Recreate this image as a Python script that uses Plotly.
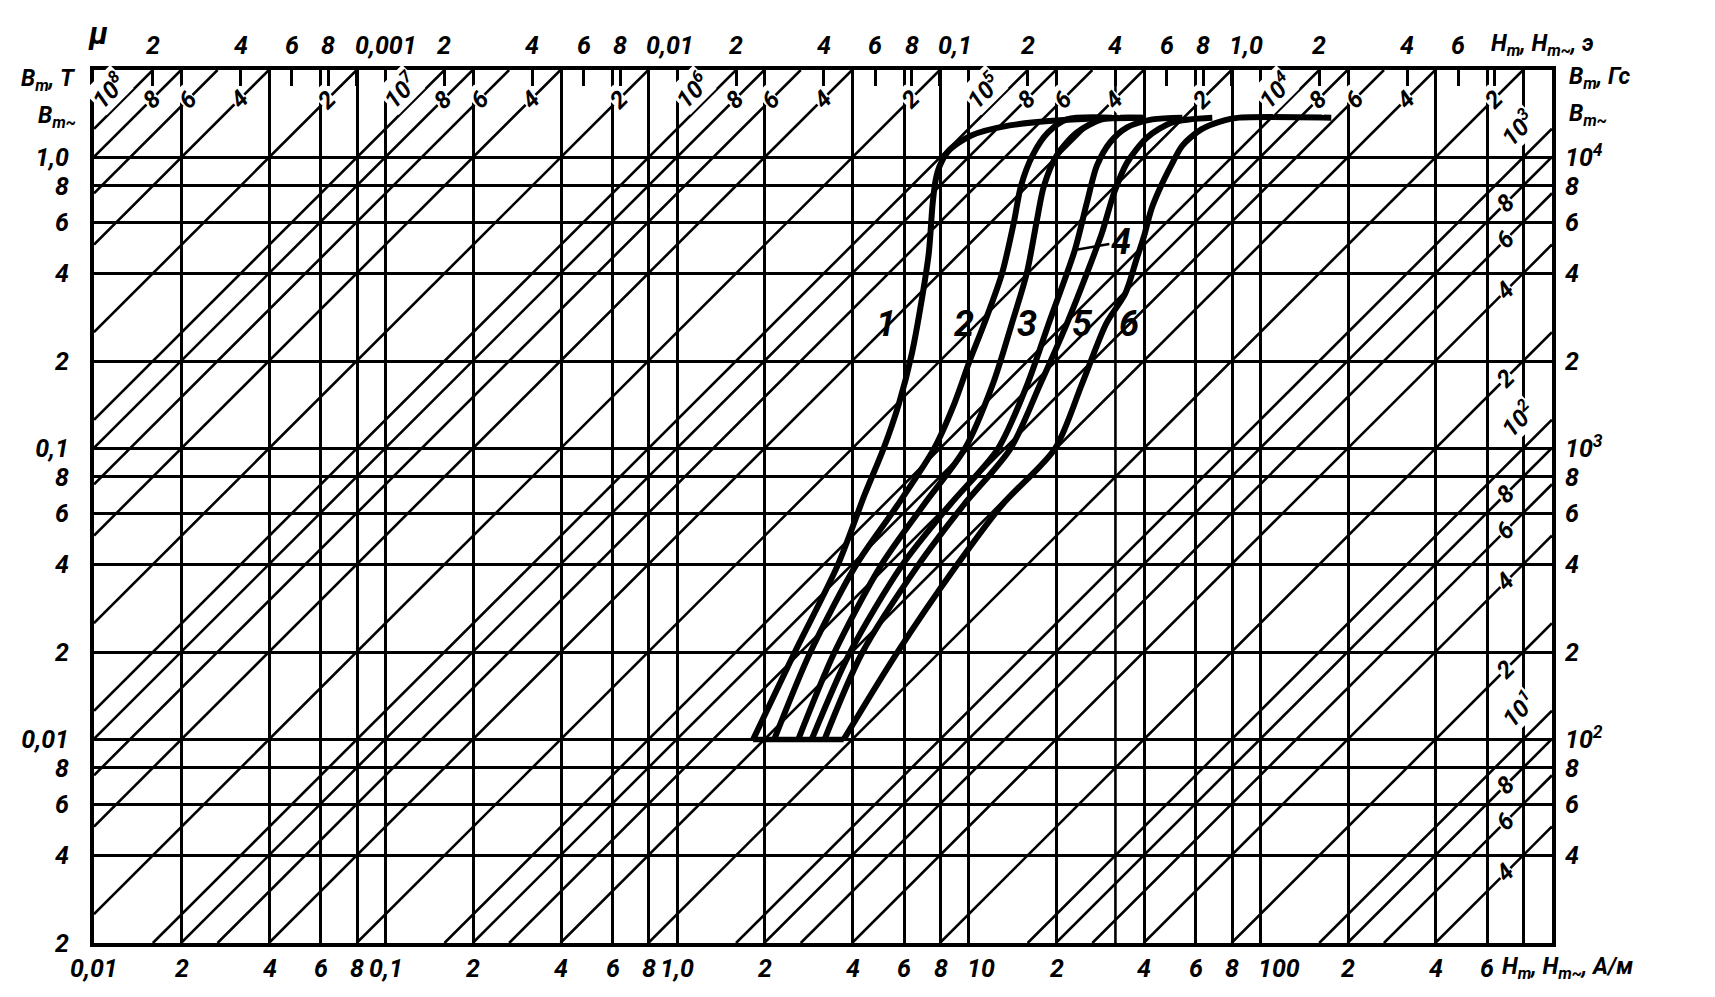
import numpy as np
import plotly.graph_objects as go

MU0 = 4e-7 * np.pi            # H/m
OE = 1000.0 / (4 * np.pi)     # A/m in one oersted

H_MIN, H_MAX = 0.01, 1000.0   # A/m
B_MIN, B_MAX = 0.002, 2.0     # T

# ---- bottom axis (A/m) ----
h_grid = [0.01, 0.02, 0.04, 0.06, 0.08, 0.1, 0.2, 0.4, 0.6, 0.8, 1, 2, 4, 6, 8,
          10, 20, 40, 60, 80, 100, 200, 400, 600, 800, 1000]
h_labels = ["0,01", "2", "4", "6", "8", "0,1", "2", "4", "6", "8", "1,0", "2", "4", "6", "8",
            "10", "2", "4", "6", "8", "100", "2", "4", "6", "", ""]
extra_vertical_oe = [0.4]

# ---- top axis (Oe) ----
oe_ticks = [0.0002, 0.0004, 0.0006, 0.0008, 0.001, 0.002, 0.004, 0.006, 0.008,
            0.01, 0.02, 0.04, 0.06, 0.08, 0.1, 0.2, 0.4, 0.6, 0.8, 1.0, 2, 4, 6, 8, 10]
oe_labels = ["2", "4", "6", "8", "0,001", "2", "4", "6", "8",
             "0,01", "2", "4", "6", "8", "0,1", "2", "4", "6", "8", "1,0", "2", "4", "6", "", ""]

# ---- left axis (T) ----
b_grid = [0.002, 0.004, 0.006, 0.008, 0.01, 0.02, 0.04, 0.06, 0.08,
          0.1, 0.2, 0.4, 0.6, 0.8, 1.0, 2.0]
b_labels = ["2", "4", "6", "8", "0,01", "2", "4", "6", "8",
            "0,1", "2", "4", "6", "8", "1,0", ""]

# ---- right axis (Gs) ----
gs_ticks = [40, 60, 80, 100, 200, 400, 600, 800, 1000, 2000, 4000, 6000, 8000, 10000]
gs_labels = ["4", "6", "8", "10<sup>2</sup>", "2", "4", "6", "8", "10<sup>3</sup>",
             "2", "4", "6", "8", "10<sup>4</sup>"]

# ---- permeability lines ----
mu_top = [1e8, 8e7, 6e7, 4e7, 2e7, 1e7, 8e6, 6e6, 4e6, 2e6, 1e6, 8e5, 6e5, 4e5, 2e5,
          1e5, 8e4, 6e4, 4e4, 2e4, 1e4, 8e3, 6e3, 4e3, 2e3]
mu_right = [1e3, 800, 600, 400, 200, 100, 80, 60, 40, 20, 10, 8, 6, 4]

# ---- magnetization curves (H in A/m, B in T) ----
c1_h = [1.82, 2.52, 3.55, 4.39, 5.10, 5.75, 6.37, 6.89, 7.29, 7.52, 7.70, 7.95, 8.54, 10.2, 13.8, 20.5, 28.6, 40.0]
c1_b = [0.0100, 0.0198, 0.0397, 0.0693, 0.100, 0.142, 0.211, 0.323, 0.469, 0.699, 0.839, 0.938, 1.057, 1.191, 1.290, 1.343, 1.364, 1.372]

c2_h = [2.15, 2.85, 4.10, 5.70, 7.60, 8.90, 10.1, 11.3, 13.0, 14.3, 15.1, 16.6, 18.7, 21.7, 31.0]
c2_b = [0.0100, 0.0198, 0.0397, 0.0640, 0.100, 0.142, 0.202, 0.269, 0.400, 0.605, 0.800, 1.024, 1.220, 1.353, 1.372]

c3_h = [2.60, 3.45, 5.00, 7.00, 9.70, 12.1, 14.05, 15.8, 17.1, 18.1, 20.1, 23.5, 28.6, 39.3]
c3_b = [0.0100, 0.0198, 0.0397, 0.0640, 0.100, 0.167, 0.269, 0.400, 0.605, 0.800, 1.024, 1.220, 1.353, 1.372]

c4_h = [2.89, 3.90, 5.90, 8.60, 12.6, 15.9, 18.8, 23.1, 25.4, 27.5, 30.5, 34.9, 42.6, 54.0]
c4_b = [0.0100, 0.0198, 0.0397, 0.0640, 0.100, 0.167, 0.269, 0.481, 0.699, 0.938, 1.127, 1.270, 1.353, 1.372]

c5_h = [3.20, 4.30, 6.70, 9.60, 13.9, 17.6, 21.7, 25.4, 28.6, 31.5, 34.9, 40.9, 49.9, 68.4]
c5_b = [0.0100, 0.0198, 0.0397, 0.0640, 0.100, 0.167, 0.269, 0.400, 0.550, 0.757, 0.961, 1.173, 1.322, 1.372]

c6_h = [3.72, 5.66, 9.09, 13.0, 19.75, 24.45, 29.6, 34.4, 37.5, 39.9, 42.2, 45.0, 49.4, 54.0, 62.7, 75.2, 84.7, 175.0]
c6_b = [0.0100, 0.0198, 0.0397, 0.0640, 0.100, 0.167, 0.269, 0.341, 0.444, 0.537, 0.661, 0.775, 0.938, 1.100, 1.250, 1.343, 1.372, 1.372]

curve_names = ["1", "2", "3", "4", "5", "6"]
curve_label_h = [5.22, 9.61, 15.8, 32.8, 24.6, 35.5]
curve_label_b = [0.269, 0.269, 0.269, 0.508, 0.269, 0.269]

FONT = "Roboto, Liberation Sans, DejaVu Sans"
BLACK = "#000000"


def fnt(size):
    return dict(family=FONT, size=size, color=BLACK, weight="bold", style="italic")


fig = go.Figure()

# permeability diagonals
dx, dy = [], []
for mu in mu_top + mu_right:
    c = MU0 * mu
    h0 = max(H_MIN, B_MIN / c)
    h1 = min(H_MAX, B_MAX / c)
    if h0 < h1:
        dx += [h0, h1, None]
        dy += [c * h0, c * h1, None]
fig.add_trace(go.Scatter(x=dx, y=dy, mode="lines", line=dict(color=BLACK, width=2.6),
                         hoverinfo="skip", showlegend=False))

# stray vertical line at 0.4 Oe
vx, vy = [], []
for oe in extra_vertical_oe:
    vx += [oe * OE, oe * OE, None]
    vy += [B_MIN, B_MAX, None]
fig.add_trace(go.Scatter(x=vx, y=vy, mode="lines", line=dict(color=BLACK, width=2.6),
                         hoverinfo="skip", showlegend=False))

curves = [(c1_h, c1_b), (c2_h, c2_b), (c3_h, c3_b), (c4_h, c4_b), (c5_h, c5_b), (c6_h, c6_b)]

# common starting base at B = 0.01 T
fig.add_trace(go.Scatter(x=[c1_h[0], c6_h[0]], y=[c1_b[0], c6_b[0]], mode="lines",
                         line=dict(color=BLACK, width=5.5), hoverinfo="skip", showlegend=False))

for (hh, bb), name in zip(curves, curve_names):
    fig.add_trace(go.Scatter(x=hh, y=bb, mode="lines", name=name,
                             line=dict(color=BLACK, width=6, shape="spline", smoothing=0.8),
                             hoverinfo="skip", showlegend=False))

# dummy trace for secondary axes
fig.add_trace(go.Scatter(x=[H_MIN / OE, H_MAX / OE], y=[B_MIN * 1e4, B_MAX * 1e4],
                         xaxis="x2", yaxis="y2", mode="markers",
                         marker=dict(opacity=0), hoverinfo="skip", showlegend=False))

annotations = []


def mu_text(mu):
    k = int(np.floor(np.log10(mu) + 1e-9))
    m = int(round(mu / 10 ** k))
    return "10<sup>%d</sup>" % k if m == 1 else str(m)


# top-band labels
for mu in mu_top:
    txt = mu_text(mu)
    is_dec = txt.startswith("10")
    bl = 1.55 if is_dec else 1.58
    hl = bl / (MU0 * mu)
    annotations.append(dict(x=np.log10(hl), y=np.log10(bl), xref="x", yref="y",
                            text=txt, showarrow=False, textangle=-45,
                            font=fnt(24), bgcolor="white", borderpad=0,
                            xshift=-12 if is_dec else 0, yshift=12 if is_dec else 0))
# right-band labels
for mu in mu_right:
    txt = mu_text(mu)
    is_dec = txt.startswith("10")
    hl = 880.0 if is_dec else 690.0
    bl = MU0 * mu * hl
    annotations.append(dict(x=np.log10(hl), y=np.log10(bl), xref="x", yref="y",
                            text=txt, showarrow=False, textangle=-45,
                            font=fnt(24), bgcolor="white", borderpad=0,
                            xshift=-18 if is_dec else 0, yshift=18 if is_dec else 0))

# bottom tick labels (A/m)
for hv, lab in zip(h_grid, h_labels):
    if not lab:
        continue
    left = lab in ("10", "100")
    annotations.append(dict(x=np.log10(hv), y=0, xref="x", yref="paper", text=lab,
                            showarrow=False, font=fnt(25), yanchor="middle",
                            xanchor="left" if left else "center",
                            xshift=-4 if left else 0, yshift=-25))
# top tick labels (Oe)
for ov, lab in zip(oe_ticks, oe_labels):
    if not lab:
        continue
    left = "," in lab
    annotations.append(dict(x=np.log10(ov), y=1, xref="x2", yref="paper", text=lab,
                            showarrow=False, font=fnt(25), yanchor="middle",
                            xanchor="left" if left else "center",
                            xshift=-4 if left else 0, yshift=25))

# curve labels
for name, hl, bl in zip(curve_names, curve_label_h, curve_label_b):
    if name == "4":
        continue
    annotations.append(dict(x=np.log10(hl), y=np.log10(bl), xref="x", yref="y",
                            text=name, showarrow=False, font=fnt(36)))
annotations.append(dict(x=np.log10(c4_h[7]), y=np.log10(c4_b[7]), xref="x", yref="y",
                        text="4", showarrow=True, arrowhead=0, arrowwidth=2.5, arrowcolor=BLACK,
                        ax=46, ay=-8, standoff=0, font=fnt(36)))

# axis titles / corner texts
annotations += [
    dict(x=0.003, y=1.042, xref="paper", yref="paper", text="μ", showarrow=False,
         font=fnt(32), xanchor="center", yanchor="middle"),
    dict(x=-0.011, y=0.989, xref="paper", yref="paper", text="B<sub>m</sub>, Т", showarrow=False,
         font=fnt(23), xanchor="right", yanchor="middle"),
    dict(x=-0.011, y=0.946, xref="paper", yref="paper", text="B<sub>m~</sub>", showarrow=False,
         font=fnt(23), xanchor="right", yanchor="middle"),
    dict(x=1.010, y=0.991, xref="paper", yref="paper", text="B<sub>m</sub>, Гс", showarrow=False,
         font=fnt(23), xanchor="left", yanchor="middle"),
    dict(x=1.010, y=0.948, xref="paper", yref="paper", text="B<sub>m~</sub>", showarrow=False,
         font=fnt(23), xanchor="left", yanchor="middle"),
    dict(x=0.964, y=-0.029, xref="paper", yref="paper",
         text="H<sub>m</sub>, H<sub>m~</sub>, А/м", showarrow=False,
         font=fnt(23), xanchor="left", yanchor="middle"),
    dict(x=0.957, y=1.029, xref="paper", yref="paper",
         text="H<sub>m</sub>, H<sub>m~</sub>, э", showarrow=False,
         font=fnt(23), xanchor="left", yanchor="middle"),
]

axis_common = dict(type="log", showline=True, linecolor=BLACK, linewidth=4,
                   zeroline=False, ticks="", tickfont=fnt(25), tickangle=0, automargin=False)

# the page body adds an 8 px margin, so the figure is 16 px smaller than the window
fig.update_layout(
    width=1699, height=981,
    margin=dict(l=86, r=155, t=62, b=46, pad=0, autoexpand=False),
    paper_bgcolor="white", plot_bgcolor="white",
    showlegend=False, hovermode=False,
    xaxis=dict(**axis_common, range=[np.log10(H_MIN), np.log10(H_MAX)], autorange=False,
               tickmode="array", tickvals=h_grid, ticktext=h_labels, mirror=True,
               showticklabels=False,
               showgrid=True, gridcolor=BLACK, gridwidth=2.6),
    yaxis=dict(**axis_common, range=[np.log10(B_MIN), np.log10(B_MAX)], autorange=False,
               tickmode="array", tickvals=b_grid, ticktext=b_labels, mirror=True,
               showgrid=True, gridcolor=BLACK, gridwidth=2.6, ticklabelstandoff=16),
    xaxis2=dict(type="log", overlaying="x", side="top", anchor="y2",
                range=[np.log10(H_MIN / OE), np.log10(H_MAX / OE)], autorange=False,
                tickmode="array", tickvals=oe_ticks, ticktext=oe_labels,
                ticks="inside", ticklen=16, tickwidth=2.6, tickcolor=BLACK,
                showticklabels=False,
                showgrid=False, showline=False, zeroline=False, automargin=False),
    yaxis2=dict(type="log", overlaying="y", side="right", anchor="x2",
                range=[np.log10(B_MIN * 1e4), np.log10(B_MAX * 1e4)], autorange=False,
                tickmode="array", tickvals=gs_ticks, ticktext=gs_labels, automargin=False,
                ticks="", showgrid=False, showline=False, zeroline=False,
                tickfont=fnt(25), ticklabelstandoff=12),
    annotations=annotations,
)

fig.write_html("out.html")
